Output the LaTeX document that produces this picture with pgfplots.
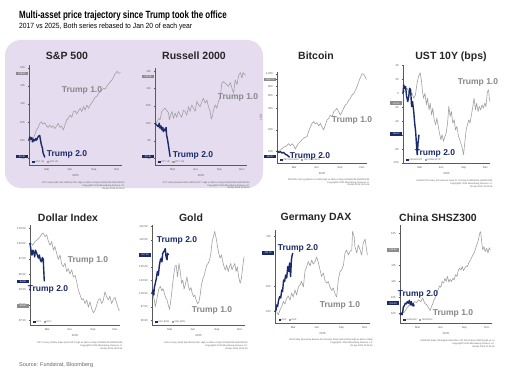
\documentclass[border=0pt]{standalone}
\usepackage{pgfplots}
\pgfplotsset{compat=1.18}
\usepackage{fontspec}
\setmainfont{Liberation Sans}
\definecolor{navy}{RGB}{27,42,105}
\definecolor{gr}{RGB}{160,160,160}
\definecolor{grt}{RGB}{135,135,135}
\definecolor{lav}{RGB}{229,221,239}
\definecolor{tk}{RGB}{90,90,90}
\pgfplotsset{
 panel/.style={
  scale only axis, anchor=south west, clip=false,
  axis lines*=left, axis line style={tk, line width=0.35pt},
  xmin=0, xmax=365,
  xtick={70,160,255,345}, xticklabels={Mar,Jun,Sep,Dec},
  tick align=outside, major tick length=1.2pt,
  tick style={tk, line width=0.3pt},
  tick label style={font=\fontsize{2.8}{3}\selectfont, text=tk},
  xticklabel style={yshift=0.8pt},
  yticklabel style={xshift=0.5pt, /pgf/number format/fixed, /pgf/number format/precision=2},
  xlabel={2025}, xlabel style={font=\fontsize{2.8}{3}\selectfont, text=tk, yshift=4pt},
  /pgf/number format/assume math mode=true,
 },
 g1/.style={gr, line width=0.6pt, no marks, line join=round},
 n2/.style={navy, line width=1.4pt, no marks, line join=round},
}
\tikzset{
 tagn/.style={fill=navy, text=white, font=\fontsize{2.4}{2.4}\selectfont, inner sep=0.5pt, minimum width=12pt, minimum height=3.6pt, anchor=east, xshift=-0.8pt},
 tagg/.style={tagn, fill=black!45},
 ttl/.style={font=\fontsize{10.5}{11}\selectfont\bfseries, text=black!85},
 t1/.style={font=\fontsize{8.5}{9}\selectfont\bfseries, text=grt},
 t2/.style={font=\fontsize{8.5}{9}\selectfont\bfseries, text=navy},
}
\newcommand{\foot}[1]{\node[anchor=north east, align=right, font=\fontsize{2.3}{2.8}\selectfont, text=tk, inner sep=0pt] at (rel axis cs:1.03,-0.17) {#1};}
\newcommand{\leg}[2]{\node[anchor=south west, font=\fontsize{2.4}{2.6}\selectfont, text=tk, inner sep=0.5pt] at (rel axis cs:0.03,0.015) {\textcolor{navy}{\rule{2.2pt}{2.2pt}}~#1\quad\textcolor{gr}{\rule{2.2pt}{2.2pt}}~#2};}
\begin{document}
\begin{tikzpicture}
\path[use as bounding box] (0pt,0pt) rectangle (524pt,381pt);
\fill[white] (0pt,0pt) rectangle (524pt,381pt);
\fill[lav, rounded corners=16pt] (5pt,193pt) rectangle (263pt,341pt);
\node[anchor=west, inner sep=0pt] at (19pt,365pt) {\scalebox{0.76}[1]{\fontsize{10.5}{11}\selectfont\bfseries Multi-asset price trajectory since Trump took the office}};
\node[anchor=west, inner sep=0pt] at (19pt,354pt) {\scalebox{0.9}[1]{\fontsize{7.5}{8}\selectfont 2017 vs 2025, Both series rebased to Jan 20 of each year}};
\node[anchor=west, inner sep=0pt, text=black!60] at (19pt,16pt) {\fontsize{5.5}{6}\selectfont Source: Fundstrat, Bloomberg};

% ---------- S&P 500
\begin{axis}[panel, at={(29pt,216pt)}, width=93pt, height=100pt, ymin=93.1, ymax=120.8, ytick={95,100,105,110,115,120}]
\addplot[g1] coordinates {(3,100)(9,99.5)(16,100.2)(22,101.4)(29,102.8)(36,103.5)(42,104.6)(49,105.1)(55,104.4)(62,104.8)(69,103.9)(75,103.5)(82,104.2)(88,103.5)(95,103.9)(102,103.2)(108,103.9)(115,104.6)(121,103.5)(128,103.9)(135,102.8)(141,104.2)(148,105.6)(154,106)(161,106.9)(168,106.3)(174,107.9)(181,108.1)(187,107.2)(194,108.1)(201,108.8)(207,107.9)(214,109.3)(220,108.3)(227,109.7)(234,108.8)(240,109.7)(247,110.4)(253,111.1)(260,111.9)(267,112.2)(273,113)(280,113.4)(286,113.9)(293,114.4)(300,114.1)(306,115)(313,115.6)(319,116.2)(326,116.7)(333,117.6)(339,118.5)(346,119)(352,118.5)(359,118.7)};
\addplot[n2] coordinates {(0,100)(3,100.9)(7,100.2)(11,100.7)(15,99.5)(18,100.2)(22,99.8)(26,100.4)(30,100)(34,100.7)(38,101.1)(42,101.3)(45,100)(49,98.6)(53,97.7)(55,96.5)(59,95.8)(62,95.2)};
\node[tagg] at (axis cs:0,118.5) {118.50};
\node[tagn] at (axis cs:0,95.4) {95.40};
\leg{SPX US}{SPX US}
\foot{SPX Index (S\&P 500 INDEX) SPX High vs Mid Lo Daily 20JAN2025-09APR2025\\Copyright\textcopyright{} 2025 Bloomberg Finance L.P.\\09-Apr-2025 11:05:16}
\end{axis}

% ---------- Russell 2000
\begin{axis}[panel, at={(155pt,216pt)}, width=92pt, height=97pt, ymin=88, ymax=115.9, ytick={90,95,100,105,110,115}]
\addplot[g1] coordinates {(4,100)(9,100.5)(15,101.4)(20,101)(27,103.4)(33,104)(40,104.3)(46,103.7)(53,103.1)(57,101)(62,102.4)(68,103.4)(73,101.4)(80,102.9)(86,101.7)(93,103.4)(100,102.4)(106,101.7)(113,103.8)(119,103.4)(126,102.3)(133,104.8)(139,103.4)(146,105.3)(153,104.3)(159,103.4)(166,106.3)(173,105.3)(179,104.8)(186,106.3)(192,107.2)(199,105.8)(206,106.7)(212,104.8)(219,103.4)(223,101.2)(228,102.1)(232,103.8)(239,105.3)(245,104.3)(252,106.3)(259,107.5)(265,111.5)(272,112)(279,111.5)(285,111.1)(292,110.6)(299,111.7)(305,110.1)(312,108.7)(318,112.5)(325,111.1)(332,113.7)(338,114.6)(345,113)(349,114.6)(354,114.1)(360,113.9)};
\addplot[n2] coordinates {(0,100)(7,99.5)(13,99)(17,100)(20,98.6)(24,99.2)(27,98.1)(31,98.8)(33,97.6)(37,98.3)(40,97.9)(44,98.8)(46,96.6)(50,95.2)(54,93.3)(57,91.8)(60,90.4)};
\node[tagg] at (axis cs:0,113.5) {113.50};
\node[tagn] at (axis cs:0,90.4) {90.40};
\leg{RTY US}{RTY US}
\foot{RTY Index (Russell 2000 INDEX) RTY High vs Mid Lo Daily 20JAN2025-09APR2025\\Copyright\textcopyright{} 2025 Bloomberg Finance L.P.\\09-Apr-2025 11:05:16}
\end{axis}

% ---------- Bitcoin
\begin{axis}[panel, at={(277pt,218pt)}, width=90pt, height=91pt, ymode=log, ymin=69, ymax=1276, ytick={100,200,400,600,800,1000,1200}, log ticks with fixed point, ylabel={LOG}, ylabel style={font=\fontsize{2.8}{3}\selectfont, text=tk, yshift=-3pt}]
\addplot[g1] coordinates {(7,100)(14,105)(20,109)(27,115)(34,117)(41,122)(47,128)(54,120)(61,128)(68,120)(74,108)(81,120)(88,130)(95,137)(101,145)(108,153)(115,158)(122,161)(128,189)(135,217)(142,246)(149,260)(155,241)(162,252)(169,226)(176,246)(183,217)(189,199)(196,234)(203,274)(210,289)(216,321)(223,305)(230,357)(237,377)(243,397)(250,357)(257,321)(264,357)(270,397)(277,442)(284,466)(291,518)(297,546)(304,607)(311,640)(318,711)(324,792)(331,928)(338,1066)(345,1211)(351,1186)(358,1089)(362,1000)};
\addplot[n2] coordinates {(0,102)(7,97)(14,99)(20,95)(27,97)(34,91)(41,89)(47,85)(51,83)};
\node[tagg] at (axis cs:0,1000) {1000.00};
\node[tagn] at (axis cs:0,85) {85.00};
\leg{XBTUSD BGN}{XBTUSD BGN}
\foot{XBTUSD Curncy (Bitcoin in USD) High vs Mid Lo Daily 20JAN2025-09APR2025\\Copyright\textcopyright{} 2025 Bloomberg Finance L.P.\\09-Apr-2025 11:05:16}
\end{axis}

% ---------- UST 10Y
\begin{axis}[panel, at={(403pt,218pt)}, width=87pt, height=98pt, ymin=-100, ymax=40.5, ytick={-100,-80,-60,-40,-20,0,20,40}]
\addplot[g1] coordinates {(0,0)(10,4.8)(17,7.1)(24,2.4)(31,-2.4)(38,0)(45,-7.1)(52,-2.4)(59,14.3)(65,23.8)(72,29.5)(77,19)(81,4.8)(86,-7.1)(92,0)(98,-16.7)(103,-7.1)(109,-23.8)(114,-14.3)(120,-31)(125,-21.4)(131,-38.1)(137,-45.2)(142,-35.7)(148,-47.6)(153,-57.1)(159,-66.7)(164,-59.5)(170,-69)(176,-61.9)(181,-57.1)(187,-42.9)(192,-19)(198,-33.3)(203,-26.2)(209,-42.9)(215,-38.1)(220,-52.4)(226,-47.6)(233,-61.9)(240,-69)(247,-76.2)(254,-88.1)(259,-71.4)(265,-52.4)(270,-45.2)(276,-38.1)(281,-42.9)(287,-31)(293,-19)(298,-7.1)(304,-23.8)(309,-14.3)(315,-26.2)(320,-19)(326,-23.8)(332,-16.7)(337,-21.4)(343,-14.3)(348,-19)(354,2.4)(359,4.8)(362,-7.1)(365,-11.9)};
\addplot[n2] coordinates {(0,0)(3,11.9)(7,7.1)(11,9.5)(15,-4.8)(20,-11.9)(24,-4.8)(28,7.1)(32,4.8)(36,-19)(40,-11.9)(45,-26.2)(49,-42.9)(53,-54.8)(57,-76.2)(60,-88.1)(63,-71.4)(67,-59.5)};
\node[tagg] at (axis cs:0,-14.3) {-14.30};
\node[tagn] at (axis cs:0,-58.6) {-58.60};
\leg{USGG10YR}{USGG10YR}
\foot{USGG10YR Index (US Generic Govt 10 Yr) Daily 20JAN2025-09APR2025\\Copyright\textcopyright{} 2025 Bloomberg Finance L.P.\\09-Apr-2025 11:05:16}
\end{axis}

% ---------- Dollar Index
\begin{axis}[panel, at={(30pt,56pt)}, width=90pt, height=100pt, ymin=86.7, ymax=103, ytick={87.5,90,92.5,95,97.5,100,102.5}, yticklabel style={/pgf/number format/fixed zerofill}]
\addplot[g1] coordinates {(3,100.1)(11,99.7)(20,100.3)(27,100.5)(34,100.8)(41,101.1)(47,101.5)(54,101.7)(61,101.1)(68,101.4)(74,100.4)(81,99.7)(88,100.3)(95,98.9)(101,99.5)(108,98.4)(115,97.4)(122,98.1)(128,96.7)(135,96.2)(142,96.8)(149,95.4)(155,95.9)(162,95)(169,95.7)(176,94.5)(183,94.8)(189,93.8)(196,92.4)(203,91.6)(210,90.8)(216,91)(223,90.2)(230,90.8)(237,89.6)(243,90.5)(250,89.4)(257,88.7)(264,89.1)(270,89.9)(277,90.8)(284,91)(291,90.2)(297,90.7)(304,92.1)(311,91.3)(318,90.8)(324,91.4)(331,90.2)(338,90.9)(345,91.2)(352,90.2)(358,89.4)(362,89)};
\addplot[n2] coordinates {(0,100)(4,98.9)(8,98.1)(12,98.9)(16,98.4)(19,97.8)(22,98.9)(26,98.5)(30,98.1)(34,97.6)(38,98.1)(42,97.3)(46,97)(50,97.7)(54,97.4)(55,96.2)(58,93.8)};
\node[tagg] at (axis cs:0,89.8) {89.80};
\node[tagn] at (axis cs:0,93.8) {93.80};
\leg{DXY}{DXY}
\foot{DXY Curncy (Dollar Index Spot) DXY High vs Mid Lo Daily 20JAN2025-09APR2025\\Copyright\textcopyright{} 2025 Bloomberg Finance L.P.\\09-Apr-2025 11:05:16}
\end{axis}

% ---------- Gold
\begin{axis}[panel, at={(152pt,56pt)}, width=93pt, height=100pt, ymin=94.1, ymax=112.8, ytick={95,97.5,100,102.5,105,110,112.5}, yticklabel style={/pgf/number format/fixed zerofill}]
\addplot[g1] coordinates {(4,99.7)(9,98.8)(13,97.5)(17,98.4)(22,99.7)(27,100.9)(33,101.3)(38,100.5)(43,100.9)(48,100.1)(53,99.3)(59,98.8)(64,97.8)(69,97)(74,98.8)(80,101.3)(85,103.4)(90,105)(95,105.3)(100,103.1)(106,105.6)(111,104.1)(116,101.9)(121,102.5)(126,100.8)(132,101.9)(137,103.1)(142,101.6)(147,100.6)(153,101.1)(158,100)(163,99.4)(168,99.7)(173,98.8)(179,98.1)(184,98.4)(189,99.7)(194,101.6)(200,102.8)(205,103.4)(210,104.4)(215,105.3)(220,105.6)(226,106.3)(231,107.5)(236,109.7)(241,110.6)(246,111.6)(252,110.3)(257,108.8)(262,107.5)(267,106.6)(273,107.2)(278,105.9)(283,105)(288,104.4)(293,105.3)(299,104.1)(304,105)(309,105.6)(314,104.4)(319,105)(325,105.6)(330,104.1)(335,105)(340,103.1)(346,101.9)(351,102.8)(356,105)(361,106.9)};
\addplot[n2] coordinates {(0,100)(4,100.6)(7,99.7)(9,101.1)(13,101.9)(17,102.8)(21,104.1)(25,103.4)(29,105.3)(33,106.3)(37,106.6)(39,105.9)(42,107.5)(46,107.8)(50,108.1)(52,108.4)(55,106.9)(59,106.3)(61,107.5)(65,107.2)};
\node[tagn] at (axis cs:0,107.2) {107.20};
\leg{XAU BGN}{XAU BGN}
\foot{XAU Curncy (Gold Spot \$/Oz) XAU High vs Mid Lo Daily 20JAN2025-09APR2025\\Copyright\textcopyright{} 2025 Bloomberg Finance L.P.\\09-Apr-2025 11:05:16}
\end{axis}

% ---------- Germany DAX
\begin{axis}[panel, at={(275pt,58pt)}, width=95pt, height=93pt, ymin=97.7, ymax=116.3, ytick={100,105,115}]
\addplot[g1] coordinates {(6,100)(13,99.3)(19,100.3)(26,101)(32,102)(38,101.5)(45,102.7)(51,103.1)(58,102.3)(64,103.7)(70,102.9)(77,104.3)(83,103.3)(90,105)(96,105.3)(102,106)(109,104.9)(115,108)(122,109)(128,110)(135,109.1)(141,110.3)(147,109.5)(154,110)(160,110.9)(167,109.7)(173,108.3)(179,107)(186,107.7)(192,106.2)(199,105.7)(205,106)(211,104.9)(218,104.2)(224,104.7)(231,103.5)(237,102.9)(243,106.3)(250,108)(256,108.3)(263,109.3)(269,111.7)(275,112.3)(282,111.3)(288,112)(295,112.3)(298,116)(304,115)(307,113)(314,111.7)(320,113.3)(327,112.3)(333,111.3)(339,113.7)(346,114.5)(350,113)(355,111.3)};
\addplot[n2] coordinates {(0,100)(4,100.3)(6,101.3)(10,101)(14,102.3)(18,103)(22,102.7)(26,104.3)(29,104)(33,106.3)(37,106)(41,107.3)(45,106.7)(49,109)(53,108)(56,109.7)(60,107)(63,110.3)(65,111)(68,111.7)};
\node[tagn] at (axis cs:0,111.7) {111.70};
\leg{DAX}{DAX}
\foot{DAX Index (Deutsche Boerse AG German Stock Index DAX) High vs Mid Lo Daily\\Copyright\textcopyright{} 2025 Bloomberg Finance L.P.\\09-Apr-2025 11:05:16}
\end{axis}

% ---------- China SHSZ300
\begin{axis}[panel, at={(400pt,58pt)}, width=92pt, height=98pt, ymin=96.9, ymax=127.6, ytick={100,105,110,115,125}]
\addplot[g1] coordinates {(3,99.5)(11,100)(19,100.5)(27,101.6)(35,102.3)(42,102.6)(50,102.9)(58,103.6)(66,103.3)(74,104.2)(82,103.6)(90,104.7)(98,103.1)(106,102.6)(114,101.6)(119,100.8)(125,102.1)(130,102.9)(135,104.2)(141,105)(146,106.3)(151,107.3)(157,108.5)(162,108.1)(167,109.9)(173,109.4)(178,110.9)(183,109.9)(188,111.5)(194,109.7)(199,110.6)(204,109.9)(210,110.9)(215,110.4)(220,112)(226,111.5)(231,113.3)(236,114.1)(242,113.5)(247,114.6)(252,113.3)(257,114.1)(263,114.8)(268,114.6)(273,115.8)(279,116.5)(284,117.4)(289,118.2)(295,119)(300,120.3)(305,121.4)(311,122.9)(316,125)(320,125.5)(324,122.4)(328,119.8)(333,120.8)(338,119.3)(344,120.3)(349,118.8)(354,120.5)(358,119.8)};
\addplot[n2] coordinates {(0,99.5)(4,100)(8,99.5)(11,100.5)(13,101.9)(17,102.3)(21,103.1)(25,102.9)(29,103.6)(33,103.1)(37,104)(41,102.6)(45,103.6)(49,102.3)(53,102.9)(56,102.1)};
\node[tagg] at (axis cs:0,119.8) {119.80};
\node[tagn] at (axis cs:0,103.1) {103.10};
\leg{SHSZ300}{SHSZ300}
\foot{SHSZ300 Index (Shanghai Shenzhen CSI 300 Index) CSI300 High vs Lo\\Copyright\textcopyright{} 2025 Bloomberg Finance L.P.\\09-Apr-2025 11:05:16}
\end{axis}

% ---------- titles and annotations
\node[ttl] at (67pt,325pt) {S\&P 500};
\node[ttl] at (194pt,325pt) {Russell 2000};
\node[ttl] at (316pt,325pt) {Bitcoin};
\node[ttl] at (451pt,324pt) {UST 10Y (bps)};
\node[ttl] at (68pt,163pt) {Dollar Index};
\node[ttl] at (191pt,163pt) {Gold};
\node[ttl] at (316pt,163pt) {Germany DAX};
\node[ttl] at (438pt,163pt) {China SHSZ300};

\node[t1] at (82pt,291pt) {Trump 1.0};
\node[t2] at (67pt,227pt) {Trump 2.0};
\node[t1] at (238pt,284pt) {Trump 1.0};
\node[t2] at (193pt,226pt) {Trump 2.0};
\node[t1] at (352pt,261pt) {Trump 1.0};
\node[t2] at (310pt,225pt) {Trump 2.0};
\node[t1] at (478pt,299pt) {Trump 1.0};
\node[t2] at (435pt,228pt) {Trump 2.0};
\node[t1] at (88pt,121pt) {Trump 1.0};
\node[t2] at (48pt,92pt) {Trump 2.0};
\node[t1] at (212pt,71pt) {Trump 1.0};
\node[t2] at (177pt,141pt) {Trump 2.0};
\node[t1] at (340pt,76pt) {Trump 1.0};
\node[t2] at (298pt,133pt) {Trump 2.0};
\node[t1] at (453pt,68pt) {Trump 1.0};
\node[t2] at (418pt,87pt) {Trump 2.0};
\end{tikzpicture}
\end{document}
